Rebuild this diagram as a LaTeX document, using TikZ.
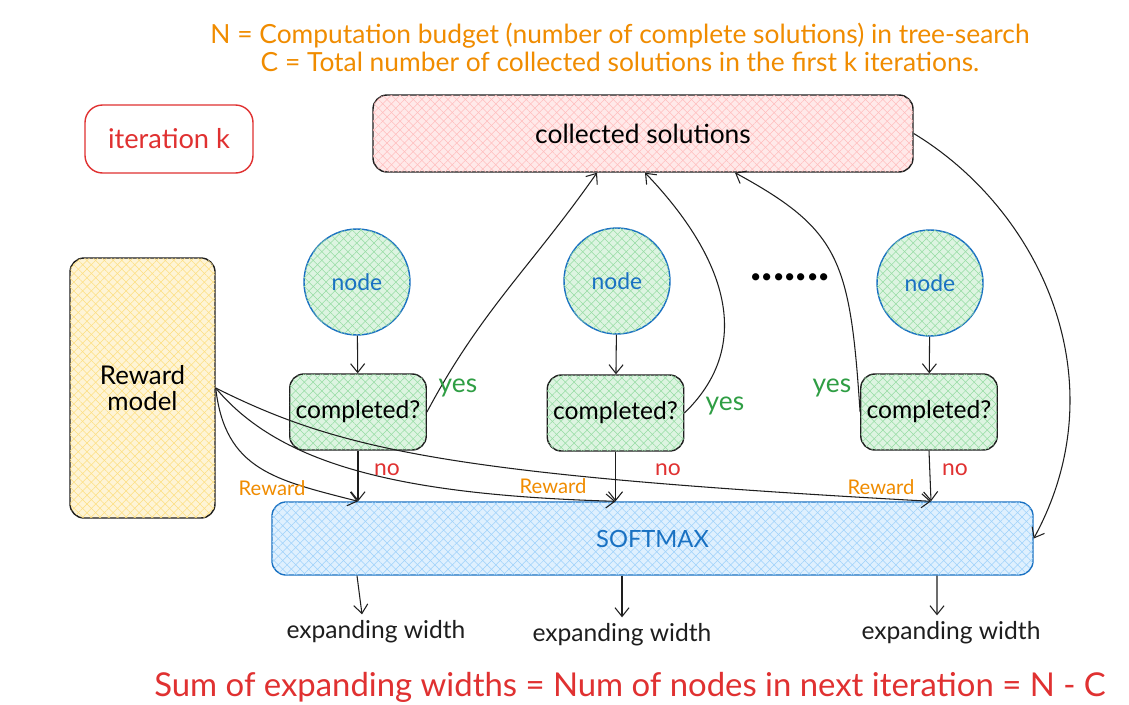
\documentclass[tikz,border=0pt]{standalone}
\usepackage{fontspec}
\setmainfont{Lato}
\usetikzlibrary{positioning,calc,arrows.meta,patterns.meta}

\definecolor{inkblack}{HTML}{1E1E1E}
\definecolor{inkred}{HTML}{E03131}
\definecolor{inkorange}{HTML}{F08C00}
\definecolor{inkgreen}{HTML}{2F9E44}
\definecolor{inkblue}{HTML}{1971C2}
\definecolor{fillpink}{HTML}{FF8787}
\definecolor{fillgreen}{HTML}{40C057}
\definecolor{fillblue}{HTML}{4DABF7}
\definecolor{fillyellow}{HTML}{FCC419}

\tikzset{
  hatch/.style={preaction={fill=#1!18},
    postaction={pattern={Lines[angle=45,distance=3.5pt,line width=0.3pt]},pattern color=#1!55},
    postaction={pattern={Lines[angle=-45,distance=3.5pt,line width=0.3pt]},pattern color=#1!55}},
  fs/.style={font=\fontsize{#1}{#1}\selectfont},
  box/.style={draw=inkblack,line width=0.8pt,rounded corners=8pt,align=center},
  circ/.style={circle,draw=inkblue,line width=0.8pt,minimum size=2.12cm,text=inkblue,hatch=fillgreen,fs=13},
  ask/.style={box,minimum width=2.68cm,minimum height=1.52cm,hatch=fillgreen,fs=14},
  yeslbl/.style={text=inkgreen,fs=15},
  nolbl/.style={text=inkred,fs=13},
  rwlbl/.style={text=inkorange,fs=11.5},
  wlbl/.style={text=inkblack,fs=14},
}

\begin{document}
\begin{tikzpicture}[>={Straight Barb[length=5pt,width=8pt]},line width=0.6pt,draw=inkblack]
\useasboundingbox[fill=white] (0,0) rectangle (22.58,-14.08);

% notes
\node[text=inkorange,fs=15,align=center] (note) at (12.4,-0.95) {N = Computation budget (number of complete solutions) in tree-search\\[1pt]C = Total number of collected solutions in the first k iterations.};
\node[draw=inkred,line width=0.8pt,rounded corners=10pt,minimum width=3.36cm,minimum height=1.36cm,text=inkred,fs=15.5] (iter) at (3.38,-2.78) {iteration k};

% main boxes
\node[box,minimum width=10.8cm,minimum height=1.54cm,hatch=fillpink,fs=15] (coll) at (12.86,-2.67) {collected solutions};
\node[box,minimum width=2.9cm,minimum height=5.2cm,hatch=fillyellow,fs=14.7] (rm) at (2.85,-7.76) {Reward\\model};
\node[box,draw=inkblue,minimum width=15.22cm,minimum height=1.46cm,hatch=fillblue,text=inkblue,fs=13.5] (sm) at (13.05,-10.77) {SOFTMAX};

% tree nodes
\node[circ] (n1) at (7.14,-5.64) {node};
\node[circ] (n2) at (12.34,-5.62) {node};
\node[circ] (n3) at (18.6,-5.66) {node};
\node[font=\bfseries\fontsize{27}{27}\selectfont] (dots) at (15.8,-5.55) {.......};

\node[ask] (c1) at (7.16,-8.24) {completed?};
\node[ask] (c2) at (12.31,-8.26) {completed?};
\node[ask] (c3) at (18.58,-8.24) {completed?};

\draw[->] (n1) -- (c1);
\draw[->] (n2) -- (c2);
\draw[->] (n3) -- (c3);

% no branch
\coordinate (t1) at (c1 |- sm.north);
\coordinate (t2) at (c2 |- sm.north);
\coordinate (t3) at ($(c3 |- sm.north)+(0.04,0)$);
\draw[->] (c1) -- (t1);
\draw[->] (c2) -- (t2);
\draw[->] (c3.south) -- (t3);
\node[nolbl] (no1) at (7.74,-9.4) {no};
\node[nolbl] (no2) at (13.36,-9.4) {no};
\node[nolbl] (no3) at (19.1,-9.4) {no};

% yes branch
\coordinate (s1) at ($(coll.south)+(-0.92,0)$);
\coordinate (s2) at ($(coll.south)+(0.04,0)$);
\coordinate (s3) at ($(coll.south)+(1.84,0)$);
\draw[->] (c1.east) to[out=62,in=-125] (s1);
\draw[->] (c2.east) .. controls (15.4,-6.6) and (14.0,-4.6) .. (s2);
\draw[->] (c3.west) .. controls (17.0,-5.2) and (16.8,-4.6) .. (s3);
\node[yeslbl] (yes1) at (9.16,-7.76) {yes};
\node[yeslbl] (yes2) at (14.5,-8.12) {yes};
\node[yeslbl] (yes3) at (16.64,-7.76) {yes};

% collected -> softmax
\draw[->] (coll.east) .. controls (20.8,-4.2) and (22.4,-7.6) .. (sm.east);

% rewards
\draw[->] (rm.east) .. controls (4.5,-9.4) and (5.5,-9.6) .. (t1);
\draw[->] (rm.east) .. controls (5.6,-9.3) and (8.0,-9.9) .. (t2);
\draw[->] (rm.east) .. controls (6.8,-9.0) and (9.0,-9.5) .. (t3);
\node[rwlbl] (rw1) at (5.44,-9.76) {Reward};
\node[rwlbl] (rw2) at (11.06,-9.72) {Reward};
\node[rwlbl] (rw3) at (17.62,-9.74) {Reward};

% widths
\node[wlbl] (w1) at (7.52,-12.64) {expanding width};
\node[wlbl] (w2) at (12.44,-12.7) {expanding width};
\node[wlbl] (w3) at (19.02,-12.66) {expanding width};
\draw[->] (sm.south -| n1) -- ($(w1.north)+(-0.28,0)$);
\draw[->] (sm.south -| w2) -- (w2.north);
\draw[->] ($(sm.south -| c3)+(0.16,0)$) -- ($(w3.north)+(-0.28,0)$);

\node[text=inkred,fs=18.7] (sum) at (12.6,-13.74) {Sum of expanding widths = Num of nodes in next iteration = N - C};
\end{tikzpicture}
\end{document}
